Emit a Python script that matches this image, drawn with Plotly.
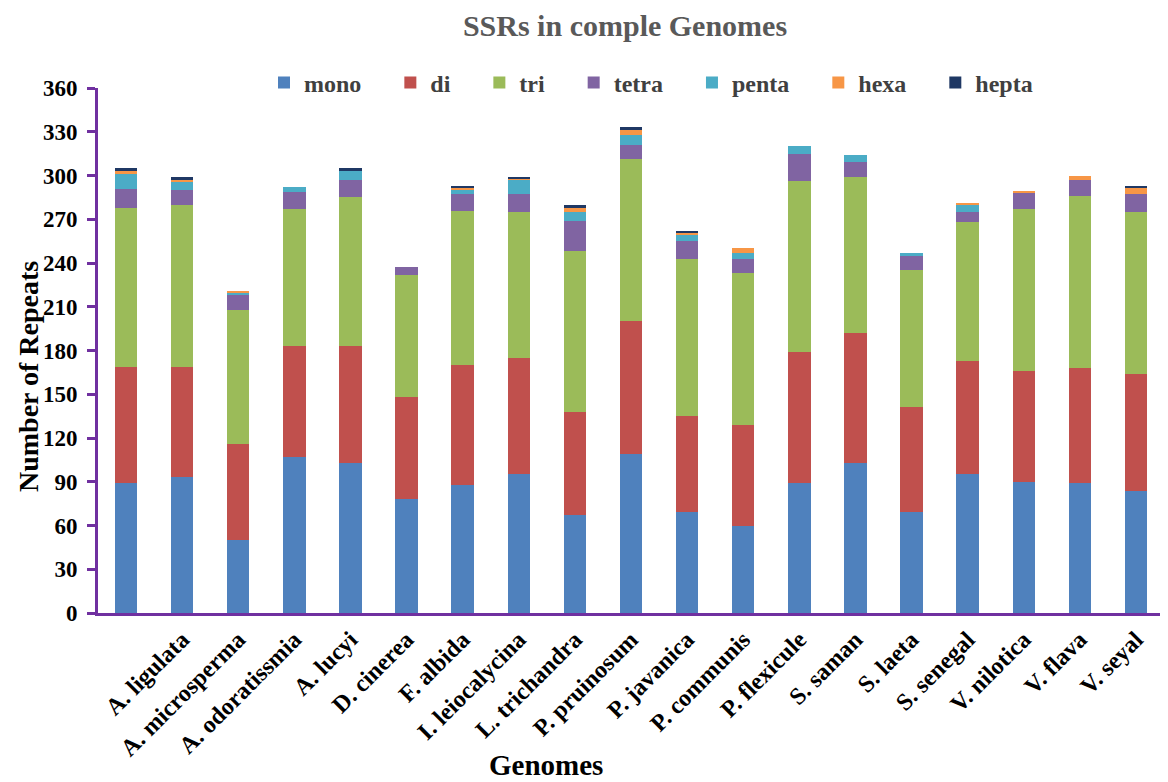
import plotly.graph_objects as go

categories = [" ", "A. ligulata", "A. microsperma", "A. odoratissmia", "A. lucyi",
              "D. cinerea", "F. albida", "I. leiocalycina", "L. trichandra",
              "P. pruinosum", "P. javanica", "P. communis", "P. flexicule",
              "S. saman", "S. laeta", "S. senegal", "V. nilotica", "V. flava", "V. seyal"]

mono = [89, 93, 50, 107, 103, 78, 88, 95, 67, 109, 69, 60, 89, 103, 69, 95, 90, 89, 84]
di = [80, 76, 66, 76, 80, 70, 82, 80, 71, 91, 66, 69, 90, 89, 72, 78, 76, 79, 80]
tri = [109, 111, 92, 94, 102, 84, 106, 100, 110, 111, 108, 104, 117, 107, 94, 95, 111, 118, 111]
tetra = [13, 10, 10, 12, 12, 5, 11, 12, 21, 10, 12, 10, 19, 10, 10, 7, 11, 11, 12]
penta = [10, 6, 2, 3, 6, 0, 3, 10, 6, 7, 4, 4, 5, 5, 2, 5, 0, 0, 0]
hexa = [2, 1, 1, 0, 0, 0, 2, 1, 3, 3, 2, 3, 0, 0, 0, 1, 1, 3, 5]
hepta = [2, 2, 0, 0, 2, 0, 1, 1, 2, 2, 1, 0, 0, 0, 0, 0, 0, 0, 1]

series_names = ["mono", "di", "tri", "tetra", "penta", "hexa", "hepta"]
series_values = [mono, di, tri, tetra, penta, hexa, hepta]
colors = ["#4F81BD", "#C0504D", "#9BBB59", "#8064A2", "#4BACC6", "#F79646", "#1F3864"]

FONT = "Liberation Serif"
PURPLE = "#7030A0"
PAD = "&nbsp;" * 4

# plot area in figure pixels (page has an 8px body offset)
L, T, W, H = 90, 80, 1066, 525
B = T + H

fig = go.Figure()
for name, vals, col in zip(series_names, series_values, colors):
    legend_label = "<b>" + name + "</b>" + (PAD if name != "hepta" else "")
    fig.add_trace(go.Bar(x=categories, y=vals, name=legend_label, marker_color=col,
                         marker_line_width=0))

fig.update_layout(
    barmode="stack",
    bargap=0.6,
    width=1168, height=782,
    paper_bgcolor="white", plot_bgcolor="white",
    margin=dict(l=L, r=1168 - L - W, t=T, b=782 - B, autoexpand=False),
    font=dict(family=FONT, color="black"),
    title=dict(text="<b>SSRs in comple Genomes</b>", x=617 / 1168, xanchor="center",
               y=1 - 17 / 782, yanchor="middle",
               font=dict(family=FONT, size=30, color="#595959")),
    legend=dict(orientation="h", x=(256 - L) / W, xanchor="left",
                y=(B - 75) / H, yanchor="middle",
                font=dict(family=FONT, size=24, color="#404040"),
                traceorder="normal", itemwidth=30, bgcolor="rgba(0,0,0,0)"),
    showlegend=True,
    annotations=[
        dict(text="<b>Number of Repeats</b>", xref="paper", yref="paper",
             x=(20 - L) / W, y=(B - 369) / H, xanchor="center", yanchor="middle",
             textangle=-90, showarrow=False,
             font=dict(family=FONT, size=28, color="black")),
        dict(text="<b>Genomes</b>", xref="paper", yref="paper",
             x=(538 - L) / W, y=(B - 757) / H, xanchor="center", yanchor="middle",
             showarrow=False,
             font=dict(family=FONT, size=29, color="black")),
    ],
)

fig.update_yaxes(range=[0, 360], dtick=30, showgrid=False, zeroline=False,
                 automargin=False,
                 showline=True, linecolor=PURPLE, linewidth=3,
                 ticks="outside", ticklen=8, tickwidth=3, tickcolor=PURPLE,
                 tickfont=dict(family=FONT, size=23, color="black"),
                 tickprefix="<b>", ticksuffix="</b>",
                 ticklabelstandoff=5)
fig.update_xaxes(showgrid=False, showline=True, linecolor=PURPLE, linewidth=3,
                 automargin=False,
                 ticks="", tickangle=-45,
                 tickfont=dict(family=FONT, size=24, color="black"),
                 tickprefix="<b>", ticksuffix="</b>")

fig.write_html("out.html")
